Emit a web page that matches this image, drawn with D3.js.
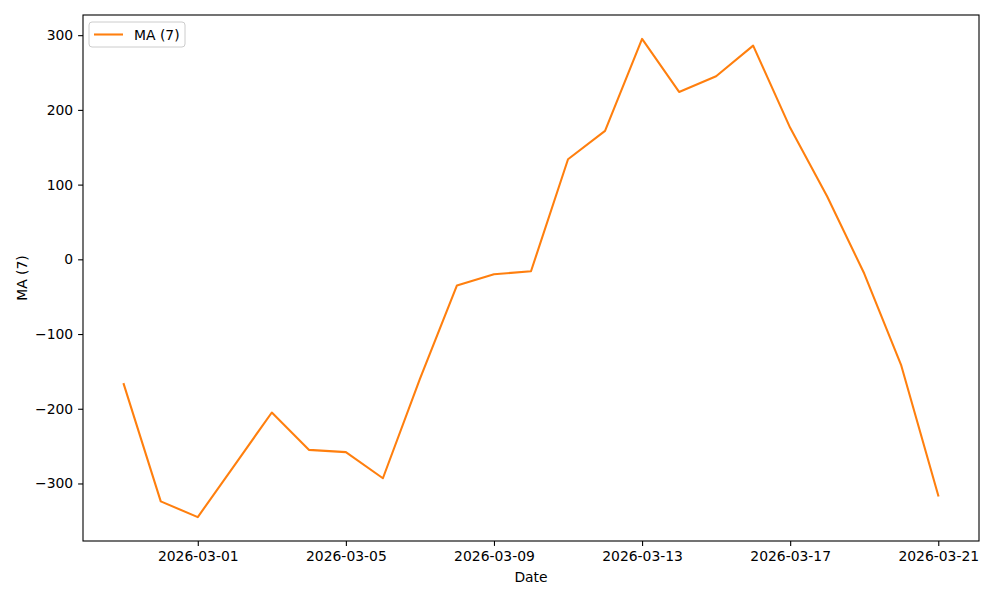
<!DOCTYPE html>
<html>
<head>
<meta charset="utf-8">
<script src="https://cdn.jsdelivr.net/npm/d3@7"></script>
<style>
  body { margin: 0; background: #fff; }
  svg { font-family: "DejaVu Sans", sans-serif; }
</style>
</head>
<body>
<div id="chart"></div>
<script>
// data
const dates = ["2026-02-27", "2026-02-28", "2026-03-01", "2026-03-02", "2026-03-03",
  "2026-03-04", "2026-03-05", "2026-03-06", "2026-03-07", "2026-03-08", "2026-03-09",
  "2026-03-10", "2026-03-11", "2026-03-12", "2026-03-13", "2026-03-14", "2026-03-15",
  "2026-03-16", "2026-03-17", "2026-03-18", "2026-03-19", "2026-03-20", "2026-03-21"];
const maValues = [-167, -324, -345, -275, -205, -255, -258, -293, -160, -35, -20,
  -16, 134, 172, 295, 224, 245, 286, 176, 84, -19, -142, -316];
const xTickLabels = ["2026-03-01", "2026-03-05", "2026-03-09", "2026-03-13", "2026-03-17", "2026-03-21"];
const yTickValues = [-300, -200, -100, 0, 100, 200, 300];
const seriesName = "MA (7)";

const W = 1000, H = 600;
const mLeft = 83, mRight = 979, mTop = 15, mBottom = 541;
const fs = 13.9;

const parse = d3.utcParse("%Y-%m-%d");
const data = dates.map((d, i) => ({ date: parse(d), v: maValues[i] }));

const svg = d3.select("#chart").append("svg")
  .attr("width", W).attr("height", H);

// matplotlib style 5% margins
const xExt = d3.extent(data, d => d.date);
const xPad = (xExt[1] - xExt[0]) * 0.05;
const x = d3.scaleUtc()
  .domain([new Date(+xExt[0] - xPad), new Date(+xExt[1] + xPad)])
  .range([mLeft, mRight]);

const yExt = d3.extent(maValues);
const yPad = (yExt[1] - yExt[0]) * 0.05;
const y = d3.scaleLinear()
  .domain([yExt[0] - yPad, yExt[1] + yPad])
  .range([mBottom, mTop]);

const minus = s => s.replace("-", "\u2212");

// x axis
const xAxis = d3.axisBottom(x)
  .tickValues(xTickLabels.map(parse))
  .tickFormat(d3.utcFormat("%Y-%m-%d"))
  .tickSizeOuter(0).tickSize(4.9).tickPadding(4.9);
const gx = svg.append("g").attr("transform", `translate(0,${mBottom})`).call(xAxis);
gx.select(".domain").remove();
gx.selectAll("line").attr("stroke", "#000").attr("stroke-width", 1.1);
gx.selectAll("text").attr("font-size", fs).attr("fill", "#000")
  .attr("font-family", "DejaVu Sans");

// y axis
const yAxis = d3.axisLeft(y)
  .tickValues(yTickValues)
  .tickFormat(d => minus(String(d)))
  .tickSizeOuter(0).tickSize(4.9).tickPadding(4.9);
const gy = svg.append("g").attr("transform", `translate(${mLeft},0)`).call(yAxis);
gy.select(".domain").remove();
gy.selectAll("line").attr("stroke", "#000").attr("stroke-width", 1.1);
gy.selectAll("text").attr("font-size", fs).attr("fill", "#000")
  .attr("font-family", "DejaVu Sans");

// line
const line = d3.line().x(d => x(d.date)).y(d => y(d.v));
svg.append("path").datum(data)
  .attr("d", line)
  .attr("fill", "none")
  .attr("stroke", "#ff7f0e")
  .attr("stroke-width", 2.08)
  .attr("stroke-linejoin", "round")
  .attr("stroke-linecap", "square");

// frame
svg.append("rect")
  .attr("x", mLeft).attr("y", mTop)
  .attr("width", mRight - mLeft).attr("height", mBottom - mTop)
  .attr("fill", "none").attr("stroke", "#000").attr("stroke-width", 1.1);

// axis labels
svg.append("text")
  .attr("x", (mLeft + mRight) / 2).attr("y", 582)
  .attr("text-anchor", "middle").attr("font-size", fs)
  .text("Date");
svg.append("text")
  .attr("transform", `translate(27,${(mTop + mBottom) / 2}) rotate(-90)`)
  .attr("text-anchor", "middle").attr("font-size", fs)
  .text(seriesName);

// legend
const lg = svg.append("g").attr("transform", `translate(${mLeft + 6},${mTop + 7})`);
lg.append("rect")
  .attr("x", 0).attr("y", 0).attr("width", 96).attr("height", 25)
  .attr("rx", 3).attr("fill", "#fff").attr("fill-opacity", 0.8)
  .attr("stroke", "#ccc").attr("stroke-width", 1);
lg.append("line")
  .attr("x1", 5).attr("x2", 34).attr("y1", 12.5).attr("y2", 12.5)
  .attr("stroke", "#ff7f0e").attr("stroke-width", 2.08);
lg.append("text")
  .attr("x", 45).attr("y", 17.5).attr("font-size", fs)
  .text(seriesName);
</script>
</body>
</html>
